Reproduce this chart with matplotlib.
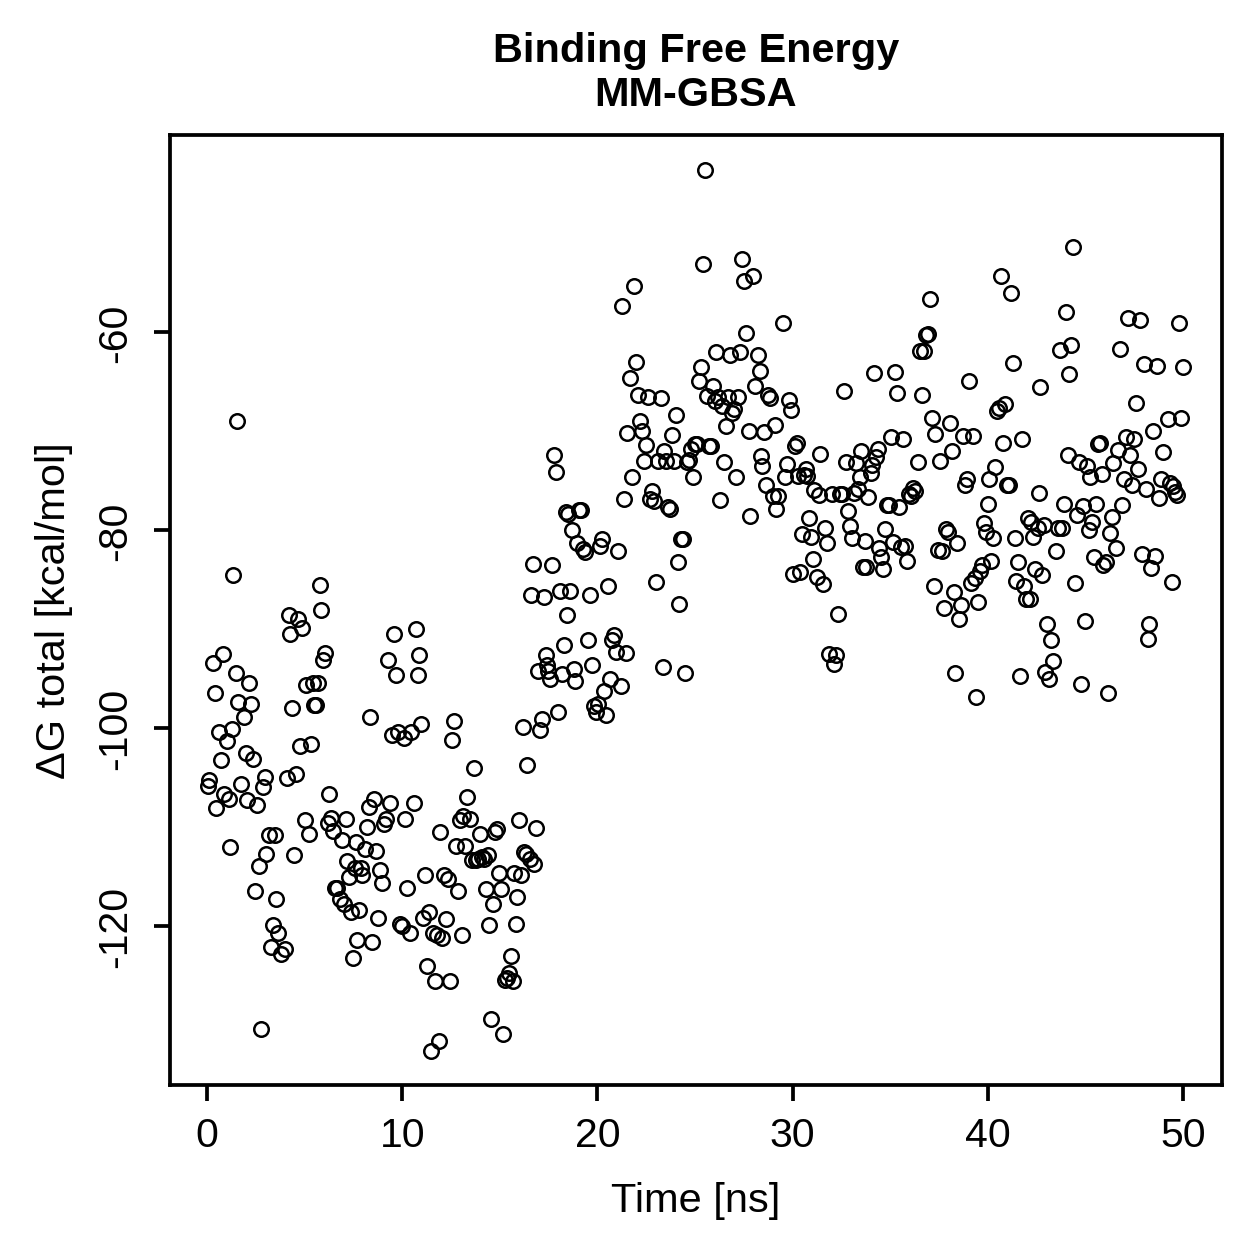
import matplotlib
matplotlib.use("Agg")
import matplotlib.pyplot as plt

plt.rcParams['font.family'] = ['Liberation Sans', 'DejaVu Sans']

# time [ns] and total binding energy [kcal/mol]
time_ns = [
    0.05, 0.1, 0.3, 0.4, 0.45, 0.6, 0.7, 0.8, 0.87, 1.0, 1.1, 1.2, 1.3, 1.33, 1.5, 1.54,
    1.6, 1.75, 1.9, 2.0, 2.05, 2.15, 2.25, 2.35, 2.45, 2.55, 2.65, 2.77, 2.87, 2.97,
    3.02, 3.18, 3.28, 3.38, 3.48, 3.53, 3.64, 3.79, 4.0, 4.1, 4.2, 4.25, 4.35, 4.46,
    4.56, 4.66, 4.76, 4.87, 5.02, 5.07, 5.23, 5.33, 5.43, 5.48, 5.58, 5.69, 5.79, 5.84,
    5.94, 6.05, 6.2, 6.25, 6.35, 6.45, 6.56, 6.66, 6.81, 6.92, 7.02, 7.12, 7.17, 7.27,
    7.38, 7.48, 7.58, 7.63, 7.68, 7.79, 7.89, 7.94, 8.09, 8.2, 8.3, 8.35, 8.45, 8.56,
    8.66, 8.76, 8.86, 8.97, 9.07, 9.17, 9.27, 9.38, 9.48, 9.58, 9.68, 9.79, 9.89, 9.99,
    10.1, 10.14, 10.25, 10.4, 10.45, 10.6, 10.71, 10.81, 10.86, 10.96, 11.07, 11.17,
    11.27, 11.37, 11.48, 11.58, 11.68, 11.78, 11.89, 11.94, 12.04, 12.14, 12.24, 12.35,
    12.45, 12.55, 12.65, 12.75, 12.86, 12.96, 13.06, 13.11, 13.22, 13.32, 13.47, 13.58,
    13.68, 13.78, 13.88, 13.99, 14.09, 14.19, 14.29, 14.4, 14.45, 14.55, 14.65, 14.75,
    14.86, 14.96, 15.06, 15.16, 15.27, 15.37, 15.47, 15.57, 15.68, 15.73, 15.83, 15.88,
    15.98, 16.09, 16.19, 16.24, 16.34, 16.39, 16.55, 16.6, 16.7, 16.75, 16.85, 16.96,
    17.06, 17.16, 17.26, 17.37, 17.42, 17.47, 17.57, 17.67, 17.78, 17.88, 17.98, 18.08,
    18.19, 18.29, 18.39, 18.44, 18.49, 18.6, 18.7, 18.8, 18.85, 18.95, 19.06, 19.16,
    19.26, 19.36, 19.52, 19.62, 19.72, 19.83, 19.93, 20.03, 20.13, 20.24, 20.34, 20.44,
    20.54, 20.65, 20.75, 20.85, 20.95, 21.06, 21.21, 21.26, 21.36, 21.46, 21.52, 21.67,
    21.77, 21.87, 21.98, 22.08, 22.18, 22.29, 22.39, 22.49, 22.59, 22.7, 22.8, 22.9,
    23.0, 23.1, 23.26, 23.36, 23.41, 23.51, 23.62, 23.72, 23.82, 23.92, 24.03, 24.13,
    24.18, 24.28, 24.39, 24.49, 24.59, 24.69, 24.8, 24.9, 25.0, 25.1, 25.2, 25.31,
    25.41, 25.51, 25.61, 25.72, 25.82, 25.92, 26.02, 26.08, 26.18, 26.28, 26.38, 26.49,
    26.59, 26.69, 26.79, 26.9, 27.0, 27.1, 27.2, 27.31, 27.41, 27.51, 27.61, 27.77,
    27.82, 27.97, 28.07, 28.23, 28.33, 28.38, 28.43, 28.53, 28.64, 28.74, 28.84, 29.0,
    29.1, 29.15, 29.25, 29.51, 29.61, 29.71, 29.82, 29.92, 30.02, 30.12, 30.23, 30.28,
    30.38, 30.48, 30.58, 30.69, 30.74, 30.84, 30.94, 31.05, 31.1, 31.25, 31.35, 31.4,
    31.56, 31.66, 31.76, 31.87, 32.02, 32.12, 32.22, 32.33, 32.43, 32.53, 32.63, 32.74,
    32.84, 32.94, 33.04, 33.15, 33.25, 33.35, 33.45, 33.5, 33.61, 33.71, 33.76, 33.86,
    34.02, 34.07, 34.17, 34.27, 34.38, 34.43, 34.53, 34.63, 34.73, 34.84, 34.94, 35.04,
    35.14, 35.25, 35.35, 35.45, 35.55, 35.66, 35.76, 35.86, 35.96, 36.07, 36.17, 36.27,
    36.42, 36.53, 36.63, 36.73, 36.83, 36.94, 37.04, 37.14, 37.24, 37.3, 37.45, 37.55,
    37.65, 37.76, 37.86, 37.96, 38.06, 38.17, 38.27, 38.32, 38.42, 38.52, 38.63, 38.73,
    38.83, 38.93, 39.04, 39.14, 39.24, 39.34, 39.4, 39.5, 39.6, 39.7, 39.81, 39.91,
    40.01, 40.06, 40.16, 40.27, 40.37, 40.47, 40.57, 40.68, 40.78, 40.88, 40.98, 41.09,
    41.19, 41.29, 41.39, 41.45, 41.55, 41.65, 41.75, 41.86, 41.96, 42.06, 42.16, 42.21,
    42.32, 42.42, 42.57, 42.62, 42.67, 42.78, 42.88, 42.93, 43.03, 43.13, 43.24, 43.34,
    43.5, 43.6, 43.7, 43.8, 43.9, 44.0, 44.11, 44.16, 44.26, 44.37, 44.47, 44.57,
    44.67, 44.77, 44.88, 44.98, 45.08, 45.18, 45.24, 45.34, 45.44, 45.54, 45.65, 45.75,
    45.85, 45.9, 46.06, 46.16, 46.26, 46.36, 46.41, 46.57, 46.67, 46.77, 46.88, 46.98,
    47.08, 47.18, 47.29, 47.39, 47.49, 47.59, 47.7, 47.8, 47.9, 48.0, 48.1, 48.21,
    48.26, 48.36, 48.46, 48.57, 48.67, 48.77, 48.87, 48.98, 49.23, 49.33, 49.44, 49.49,
    49.59, 49.69, 49.8, 49.9, 50.0,
]

dg_total = [
    -105.9, -105.2, -93.4, -96.5, -108.1, -100.4, -103.2, -92.5, -106.7, -101.3, -107.2,
    -112.0, -100.1, -84.5, -94.4, -69.0, -97.4, -105.7, -98.9, -102.5, -107.3, -95.5,
    -97.6, -103.1, -116.5, -107.8, -113.9, -130.4, -106.0, -104.9, -112.7, -110.8,
    -122.1, -119.9, -110.8, -117.3, -120.7, -122.8, -122.3, -105.0, -88.6, -90.5, -98.0,
    -112.8, -104.6, -89.0, -101.8, -89.9, -109.3, -95.7, -110.7, -101.6, -95.5, -97.7,
    -97.7, -95.5, -85.6, -88.1, -93.1, -92.4, -109.6, -106.7, -109.1, -110.4, -116.2,
    -116.2, -117.3, -111.3, -117.8, -109.2, -113.4, -115.0, -118.6, -123.2, -114.1,
    -111.5, -121.4, -118.4, -114.1, -114.8, -112.2, -110.0, -108.0, -98.9, -121.6,
    -107.2, -112.4, -119.2, -114.3, -115.7, -109.7, -109.2, -93.1, -107.6, -100.7,
    -90.5, -94.6, -100.4, -119.8, -120.0, -101.0, -109.2, -116.2, -120.7, -100.4,
    -107.6, -90.0, -94.6, -92.6, -99.6, -119.2, -114.8, -124.0, -118.6, -132.6, -120.7,
    -125.6, -120.9, -131.6, -110.5, -121.2, -114.8, -119.3, -115.2, -125.6, -101.2,
    -99.3, -111.9, -116.5, -109.3, -120.9, -108.9, -111.9, -107.0, -109.2, -113.3,
    -104.0, -113.3, -113.2, -110.7, -113.0, -113.2, -116.3, -112.8, -119.9, -129.4,
    -117.8, -110.5, -110.2, -114.6, -116.3, -130.9, -125.5, -125.2, -124.7, -123.0,
    -125.6, -114.6, -119.8, -117.1, -109.3, -114.8, -99.9, -112.5, -112.7, -103.7,
    -113.2, -86.6, -83.4, -113.7, -110.1, -94.2, -100.2, -99.1, -86.8, -92.6, -93.6,
    -94.2, -95.0, -83.5, -72.4, -74.1, -98.4, -86.2, -94.5, -91.6, -78.2, -88.6, -78.4,
    -86.2, -80.0, -94.0, -95.2, -81.3, -78.0, -78.0, -81.9, -82.2, -91.1, -86.6, -93.6,
    -97.8, -98.4, -97.6, -81.6, -80.9, -96.3, -98.7, -85.7, -95.0, -91.1, -90.6, -92.3,
    -82.1, -95.8, -57.4, -76.9, -92.4, -70.2, -64.6, -74.6, -55.3, -63.0, -66.4, -69.0,
    -70.0, -73.0, -71.4, -66.6, -76.9, -76.1, -77.1, -85.2, -73.0, -66.7, -93.8, -72.0,
    -73.0, -77.7, -77.9, -70.4, -73.0, -68.4, -83.2, -87.5, -80.9, -80.9, -94.4, -73.1,
    -72.9, -71.8, -74.6, -71.3, -71.3, -64.9, -63.5, -53.1, -43.6, -66.5, -71.5, -71.5,
    -65.4, -67.0, -62.0, -66.6, -77.0, -67.5, -73.1, -69.5, -66.6, -62.3, -68.2, -67.8,
    -74.6, -66.6, -62.0, -52.6, -54.8, -60.1, -70.0, -78.6, -54.3, -65.4, -62.3, -63.9,
    -72.5, -73.5, -70.1, -75.5, -66.4, -66.7, -76.6, -69.4, -77.9, -76.6, -59.1, -74.6,
    -73.3, -66.9, -67.9, -84.4, -71.5, -71.2, -74.5, -84.2, -80.4, -74.4, -73.8, -74.5,
    -78.8, -80.7, -82.9, -76.0, -84.7, -76.5, -72.3, -85.4, -79.8, -81.3, -92.5, -76.4,
    -93.5, -92.6, -88.5, -76.4, -76.4, -66.0, -73.1, -78.1, -79.6, -80.8, -76.3, -73.2,
    -75.9, -74.6, -72.0, -83.7, -81.1, -83.7, -76.7, -74.2, -73.4, -64.1, -72.6, -71.8,
    -81.8, -82.7, -83.9, -79.9, -77.5, -77.5, -70.6, -81.2, -64.0, -66.2, -77.7, -81.7,
    -70.8, -81.6, -83.1, -76.4, -76.6, -75.8, -76.1, -73.1, -61.9, -66.4, -61.9, -60.3,
    -60.2, -56.7, -68.7, -85.7, -70.3, -82.0, -73.0, -82.1, -87.9, -79.9, -80.2, -69.2,
    -72.0, -86.3, -94.4, -81.3, -89.0, -87.6, -70.5, -75.4, -74.8, -64.9, -85.3, -70.5,
    -84.8, -96.9, -87.3, -84.1, -83.5, -79.3, -80.2, -77.4, -74.8, -83.1, -80.8, -73.6,
    -68.0, -67.7, -54.3, -71.2, -67.3, -75.5, -75.5, -56.1, -63.1, -80.8, -85.1, -83.2,
    -94.7, -70.8, -85.7, -87.0, -78.8, -87.0, -79.2, -80.7, -83.9, -79.8, -76.3, -65.6,
    -84.5, -79.5, -94.3, -89.5, -95.0, -91.1, -93.2, -82.1, -79.8, -61.8, -79.8, -77.4,
    -58.0, -72.4, -64.2, -61.3, -51.4, -85.3, -78.5, -73.1, -95.6, -77.6, -89.2, -73.5,
    -80.0, -74.6, -79.2, -82.7, -77.4, -71.3, -71.2, -74.3, -83.5, -83.2, -96.5, -80.3,
    -78.7, -73.2, -81.8, -71.9, -61.7, -77.5, -74.8, -70.6, -58.6, -72.4, -75.5, -70.8,
    -67.2, -73.8, -58.8, -82.4, -63.2, -75.9, -91.0, -89.5, -83.8, -70.0, -82.6, -63.4,
    -76.8, -74.8, -72.1, -68.8, -75.2, -85.2, -75.6, -76.2, -76.5, -59.1, -68.7, -63.5,
]

x_ticks = [0, 10, 20, 30, 40, 50]
y_ticks = [-60, -80, -100, -120]

fig = plt.figure(figsize=(6.994, 6.994), dpi=180)
ax = fig.add_axes([0.135, 0.1374, 0.8356, 0.7546])

ax.plot(time_ns, dg_total, linestyle='none', marker='o', markersize=5.8,
        markerfacecolor='none', markeredgecolor='black', markeredgewidth=1.0)

ax.set_xlim(-1.9, 52.0)
ax.set_ylim(-136.06, -40.1)
ax.set_xticks(x_ticks)
ax.set_yticks(y_ticks)
ax.set_yticklabels([str(v) for v in y_ticks], rotation=90, va='center')

for sp in ax.spines.values():
    sp.set_linewidth(1.5)
ax.tick_params(direction='out', length=6.4, width=1.5, labelsize=16.4, pad=6)
ax.tick_params(axis='y', pad=8)

ax.set_xlabel("Time [ns]", fontsize=16.6, labelpad=11)
ax.set_ylabel("ΔG total [kcal/mol]", fontsize=16.6, labelpad=9)
ax.set_title("Binding Free Energy\nMM-GBSA", fontsize=16.6, fontweight='bold',
             linespacing=1.2, pad=12)

fig.savefig("out.png", dpi=180)
